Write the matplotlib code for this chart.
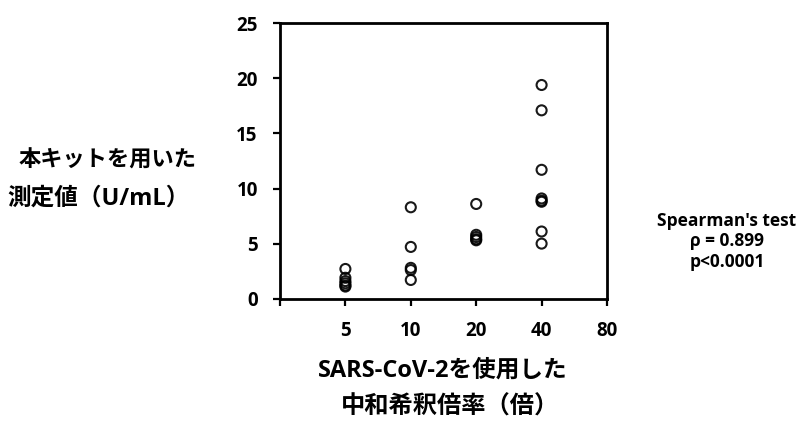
import matplotlib
matplotlib.use("Agg")
import matplotlib.pyplot as plt
from matplotlib.ticker import FixedLocator, NullLocator, FixedFormatter

plt.rcParams['font.family'] = ['Open Sans', 'Noto Sans CJK JP', 'DejaVu Sans']
plt.rcParams['font.weight'] = 'bold'

# data: dilution titer (x) and measured value U/mL (y)
dilution_5 = [2.7, 1.9, 1.6, 1.4, 1.2, 1.1]
dilution_10 = [8.3, 4.7, 2.8, 2.6, 1.7]
dilution_20 = [8.6, 5.8, 5.6, 5.4, 5.3]
dilution_40 = [19.4, 17.1, 11.7, 9.1, 8.9, 8.8, 6.1, 5.0]
groups = {5: dilution_5, 10: dilution_10, 20: dilution_20, 40: dilution_40}

x_ticks = [2.5, 5, 10, 20, 40, 80]
x_ticklabels = ['', '5', '10', '20', '40', '80']
y_ticks = [0, 5, 10, 15, 20, 25]

fig = plt.figure(figsize=(8.01, 4.21), dpi=100)
ax = fig.add_axes([280/801, 1-298.7/421, 327/801, 275.4/421])

for xv, ys in groups.items():
    ax.scatter([xv]*len(ys), ys, s=52, facecolors='none', edgecolors='black',
               linewidths=1.5, alpha=0.9, zorder=3, clip_on=False)

ax.set_xscale('log', base=2)
ax.set_xlim(2.5, 80)
ax.set_ylim(0, 25)
ax.xaxis.set_major_locator(FixedLocator(x_ticks))
ax.xaxis.set_major_formatter(FixedFormatter(x_ticklabels))
ax.xaxis.set_minor_locator(NullLocator())
ax.set_yticks(y_ticks)

for sp in ax.spines.values():
    sp.set_linewidth(2.0)
    sp.set_color('black')
ax.tick_params(axis='both', which='major', direction='out', length=5, width=1.6,
               labelsize=13.5, pad=11, colors='black')
for lab in ax.get_xticklabels() + ax.get_yticklabels():
    lab.set_fontweight('bold')

# y label (horizontal, two lines)
fig.text(108/801, 1-161/421, '本キットを用いた', ha='center', va='center',
         fontsize=16, fontweight='bold')
fig.text(99/801, 1-199/421, '測定値（U/mL）', ha='center', va='center',
         fontsize=17, fontweight='bold')

# x label (two lines)
fig.text(443/801, 1-371/421, 'SARS-CoV-2を使用した', ha='center', va='center',
         fontsize=17, fontweight='bold')
fig.text(450/801, 1-408/421, '中和希釈倍率（倍）', ha='center', va='center',
         fontsize=17.5, fontweight='bold')

# statistics annotation
fig.text(727/801, 1-241.5/421, "Spearman's test\nρ = 0.899\np<0.0001", ha='center',
         va='center', fontsize=12.5, fontweight='bold', linespacing=1.2)

fig.savefig('out.png', dpi=100)
